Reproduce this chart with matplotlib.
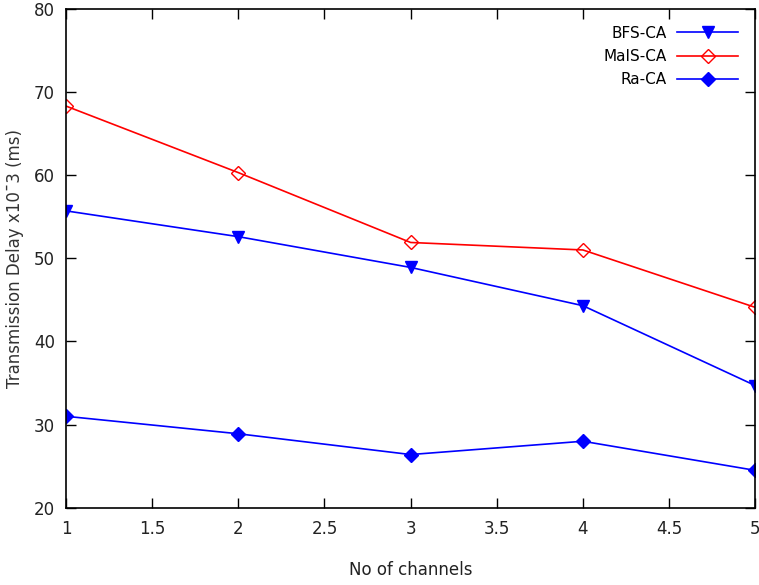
import matplotlib
matplotlib.use("Agg")
import matplotlib.pyplot as plt

channels = [1, 2, 3, 4, 5]
bfs_ca = [55.7, 52.6, 48.9, 44.3, 34.7]
mais_ca = [68.3, 60.3, 51.9, 51.0, 44.1]
ra_ca = [31.0, 28.9, 26.4, 28.0, 24.5]

fig = plt.figure(figsize=(7.59, 5.85), dpi=100)
ax = fig.add_axes([0.087, 0.132, 0.908, 0.853])

ax.plot(channels, bfs_ca, color="blue", lw=1.2, marker="v", ms=9,
        label="BFS-CA")
ax.plot(channels, mais_ca, color="red", lw=1.2, marker="D", ms=7,
        mfc="none", mec="red", label="MaIS-CA")
ax.plot(channels, ra_ca, color="blue", lw=1.2, marker="D", ms=7,
        label="Ra-CA")

ax.set_xlim(1, 5)
ax.set_ylim(20, 80)
ax.set_xticks([1, 1.5, 2, 2.5, 3, 3.5, 4, 4.5, 5])
ax.set_xticklabels(["1", "1.5", "2", "2.5", "3", "3.5", "4", "4.5", "5"])
ax.set_yticks([20, 30, 40, 50, 60, 70, 80])

ax.tick_params(direction="in", top=True, right=True, length=7, width=1,
               labelsize=12, labelcolor="#222222")
ax.tick_params(axis="x", pad=9)
ax.tick_params(axis="y", pad=8)
for s in ax.spines.values():
    s.set_linewidth(1.2)

ax.set_xlabel("No of channels", fontsize=12, labelpad=16, color="#222222")
ax.set_ylabel("Transmission Delay x10\u00af3 (ms)", fontsize=12,
              labelpad=7, color="#333333")

ax.legend(loc="upper right", frameon=False, markerfirst=False,
          handlelength=4, fontsize=11, borderaxespad=0.7,
          labelspacing=0.55, handletextpad=0.7)

fig.savefig("out.png", dpi=100)
